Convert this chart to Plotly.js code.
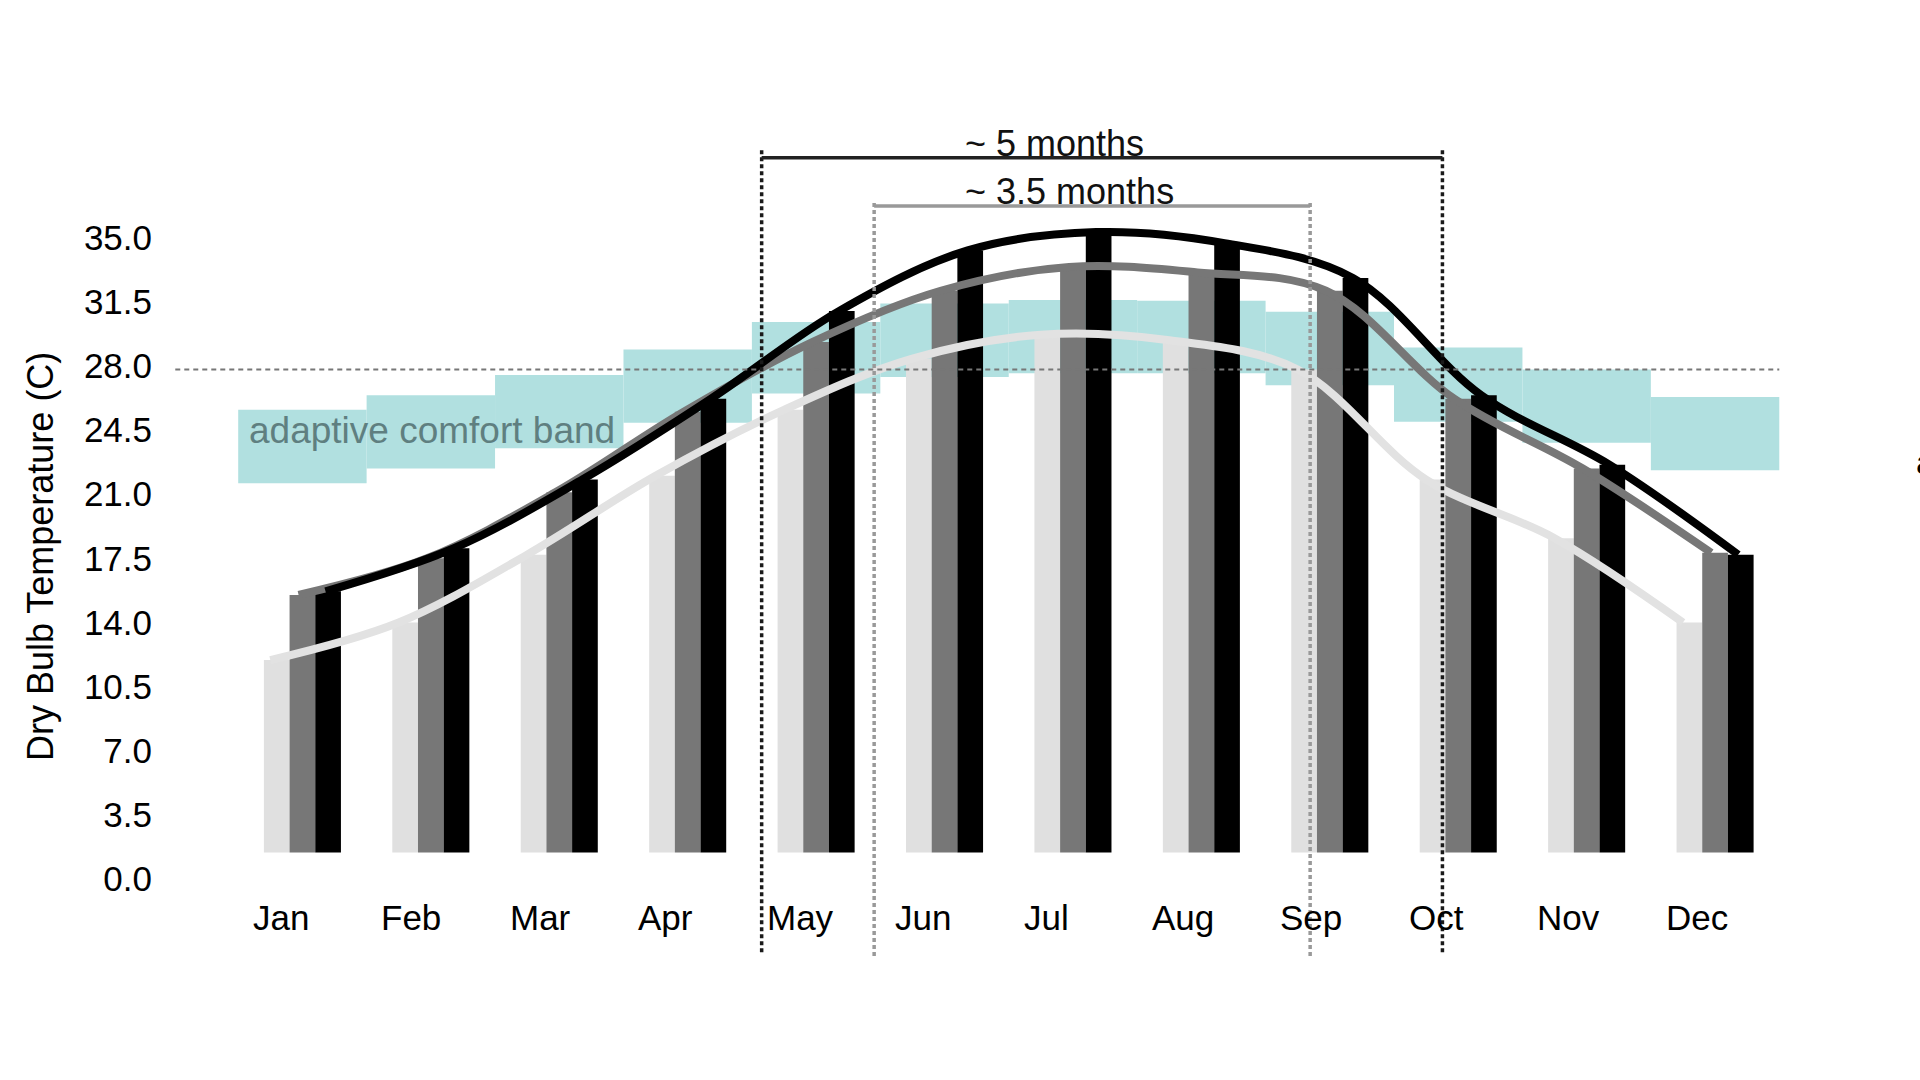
<!DOCTYPE html>
<html>
<head>
<meta charset="utf-8">
<script src="https://cdn.plot.ly/plotly-3.0.1.min.js"></script>
<style>html,body{margin:0;padding:0;background:#fff;}#chart{width:1920px;height:1080px;}</style>
</head>
<body>
<div id="chart"></div>
<script>
// ---- data ----
var months = ['Jan','Feb','Mar','Apr','May','Jun','Jul','Aug','Sep','Oct','Nov','Dec'];
var lowTemp  = [11.95, 14.0, 17.7, 22.0, 25.6, 28.4, 29.7, 29.4, 27.8, 21.8, 18.6, 14.0];
var midTemp  = [15.5, 17.5, 21.1, 25.5, 29.3, 32.1, 33.4, 33.1, 32.1, 26.2, 22.4, 17.8];
var highTemp = [15.7, 18.05, 21.8, 26.2, 31.0, 34.3, 35.3, 34.7, 32.8, 26.4, 22.6, 17.7];
var bandLow  = [21.6, 22.4, 23.5, 24.9, 26.5, 27.4, 27.6, 27.6, 26.95, 24.95, 23.8, 22.3];
var bandHigh = [25.6, 26.4, 27.5, 28.9, 30.4, 31.4, 31.6, 31.55, 30.95, 29.0, 27.8, 26.3];
var yTicks = [0, 3.5, 7, 10.5, 14, 17.5, 21, 24.5, 28, 31.5, 35];
var comfortLimit = 27.8;
var barBase = 1.45;
// periods (in month-index units)
var period5  = {start: 3.576, end: 8.877, label: '~ 5 months'};
var period35 = {start: 4.452, end: 7.847, label: '~ 3.5 months'};

var FONT = 'Arial, "Liberation Sans", Helvetica, sans-serif';
var idx = months.map(function(m, i){ return i; });

function barsFrom(vals, color, offset) {
  return {
    type: 'bar', x: idx, y: vals.map(function(v){ return v - barBase; }),
    base: barBase, width: 0.2, offset: offset,
    marker: {color: color, line: {width: 0}}, hoverinfo: 'skip', showlegend: false
  };
}
function lineFrom(vals, color, shift) {
  return {
    type: 'scatter', mode: 'lines', x: idx.map(function(i){ return i + shift; }), y: vals,
    line: {color: color, width: 8, shape: 'spline', smoothing: 1},
    hoverinfo: 'skip', showlegend: false
  };
}

var band = {
  type: 'bar', x: idx, y: bandHigh.map(function(h, i){ return h - bandLow[i]; }),
  base: bandLow, width: 1, offset: -0.5,
  marker: {color: '#b1e0e0', line: {width: 0}}, hoverinfo: 'skip', showlegend: false
};

var traces = [
  band,
  barsFrom(lowTemp, '#e0e0e0', -0.3),
  barsFrom(midTemp, '#777777', -0.1),
  barsFrom(highTemp, '#000000', 0.1),
  lineFrom(lowTemp, '#e2e2e2', -0.25),
  lineFrom(midTemp, '#777777', -0.03),
  lineFrom(highTemp, '#000000', 0.18)
];

var annotations = months.map(function(m, i){
  return {x: i - 0.4, y: -2.1, xref: 'x', yref: 'y', text: m, showarrow: false,
          xanchor: 'left', yanchor: 'middle', font: {family: FONT, size: 35, color: '#000'}};
});
annotations.push({xref: 'paper', x: -0.072, yref: 'y', y: 17.57, text: 'Dry Bulb Temperature (C)',
  textangle: -90, showarrow: false, xanchor: 'center', yanchor: 'middle',
  font: {family: FONT, size: 36, color: '#000'}});
annotations.push({x: -0.43, y: 24.5, xref: 'x', yref: 'y', text: 'adaptive comfort band', showarrow: false,
  xanchor: 'left', yanchor: 'middle', font: {family: FONT, size: 37, color: '#5f7f80'}});
annotations.push({x: 5.14, y: 40.15, xref: 'x', yref: 'y', text: period5.label, showarrow: false,
  xanchor: 'left', yanchor: 'middle', font: {family: FONT, size: 36, color: '#111'}});
annotations.push({x: 5.14, y: 37.54, xref: 'x', yref: 'y', text: period35.label, showarrow: false,
  xanchor: 'left', yanchor: 'middle', font: {family: FONT, size: 36, color: '#111'}});
annotations.push({xref: 'paper', x: 1.008, y: 22.75, yref: 'y', text: 'a', showarrow: false,
  xanchor: 'left', yanchor: 'middle', font: {family: FONT, size: 34, color: '#000'}});

var shapes = [
  {type: 'line', layer: 'above', xref: 'x', yref: 'y', x0: -0.99, x1: 11.5, y0: comfortLimit, y1: comfortLimit,
   line: {color: '#777777', width: 2, dash: '5px,4px'}},
  {type: 'line', layer: 'above', xref: 'x', yref: 'y', x0: period5.start, x1: period5.start, y0: -4.0, y1: 39.8,
   line: {color: '#1a1a1a', width: 3.5, dash: '4px,3px'}},
  {type: 'line', layer: 'above', xref: 'x', yref: 'y', x0: period5.end, x1: period5.end, y0: -4.0, y1: 39.8,
   line: {color: '#1a1a1a', width: 3.5, dash: '4px,3px'}},
  {type: 'line', layer: 'above', xref: 'x', yref: 'y', x0: period35.start, x1: period35.start, y0: -4.2, y1: 37.0,
   line: {color: '#999999', width: 3.5, dash: '4px,3px'}},
  {type: 'line', layer: 'above', xref: 'x', yref: 'y', x0: period35.end, x1: period35.end, y0: -4.2, y1: 37.0,
   line: {color: '#999999', width: 3.5, dash: '4px,3px'}},
  {type: 'line', layer: 'above', xref: 'x', yref: 'y', x0: period5.start, x1: period5.end, y0: 39.35, y1: 39.35,
   line: {color: '#222222', width: 3.5}},
  {type: 'line', layer: 'above', xref: 'x', yref: 'y', x0: period35.start, x1: period35.end, y0: 36.72, y1: 36.72,
   line: {color: '#999999', width: 3.5}}
];

var layout = {
  width: 1920, height: 1080,
  margin: {l: 165, r: 20, t: 36, b: 91, pad: 0},
  paper_bgcolor: '#ffffff', plot_bgcolor: '#ffffff',
  barmode: 'overlay', showlegend: false,
  font: {family: FONT, color: '#000'},
  xaxis: {range: [-1.07, 12.44], showticklabels: false, showgrid: false, zeroline: false, showline: false, ticks: ''},
  yaxis: {range: [-6, 46], tickmode: 'array', tickvals: yTicks,
          ticktext: yTicks.map(function(v){ return v.toFixed(1); }),
          tickfont: {family: FONT, size: 35, color: '#000'},
          showgrid: false, zeroline: false, showline: false, ticks: '', ticklabelstandoff: 12},
  annotations: annotations,
  shapes: shapes
};

Plotly.newPlot('chart', traces, layout, {staticPlot: true, displayModeBar: false});
</script>
</body>
</html>
